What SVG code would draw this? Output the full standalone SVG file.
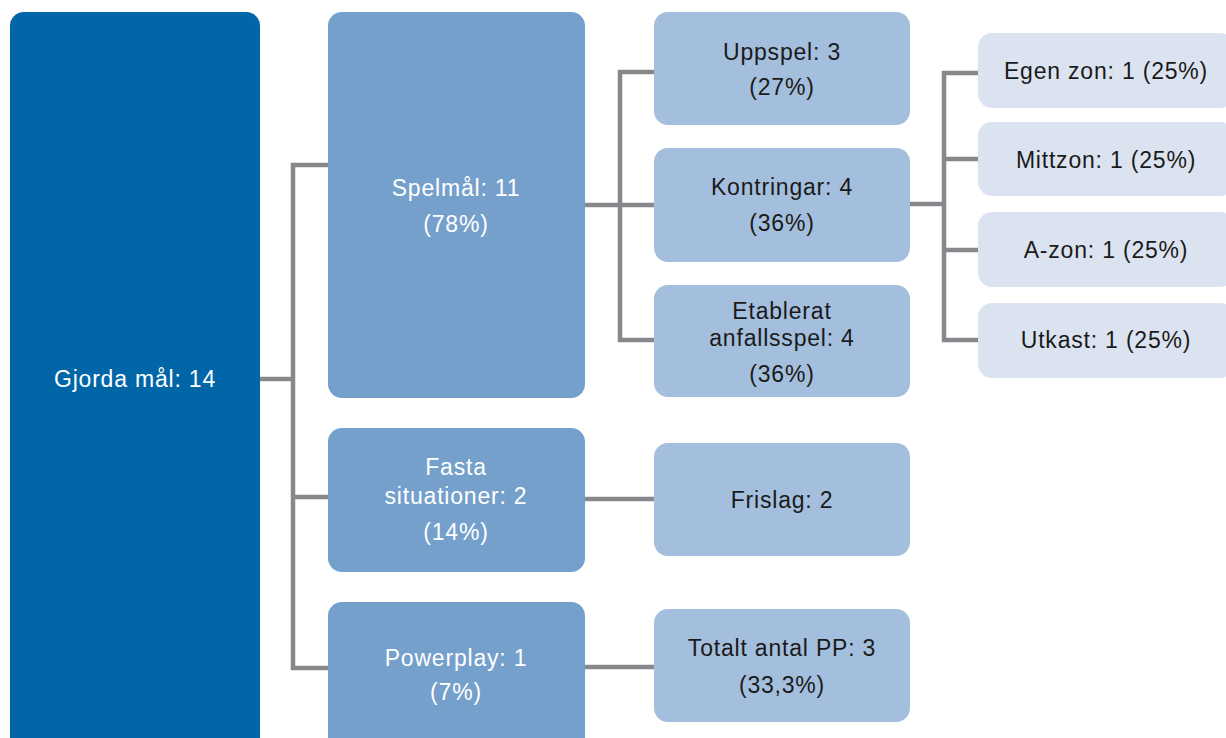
<svg xmlns="http://www.w3.org/2000/svg" width="1226" height="738" viewBox="0 0 1226 738">
<style>
text{font-family:"Liberation Sans","Noto Sans",sans-serif;font-size:23px;letter-spacing:0.8px;text-anchor:middle;}
.w{fill:#ffffff}
.d{fill:#1a1a1a}
.c{fill:none;stroke:#87888c;stroke-width:4.5}
</style>
<rect width="1226" height="738" fill="#ffffff"/>
<g id="connectors">
<path class="c" d="M260 379H293M328 165H293V668H328M293 497H328"/>
<path class="c" d="M585 205H620M654 72H620V340H654M620 205H654"/>
<path class="c" d="M585 499H654M585 667H654"/>
<path class="c" d="M910 204H944M978 73H944V340H978M944 159H978M944 250H978"/>
</g>
<g id="root"><rect x="10" y="12" width="250" height="740" rx="14" fill="#0066a8"/><text class="w" x="135" y="387">Gjorda mål: 14</text></g>
<g id="spelmal"><rect x="328" y="12" width="257" height="386" rx="14" fill="#74a0cb"/><text class="w" x="456" y="196">Spelmål: 11</text><text class="w" x="456" y="232">(78%)</text></g>
<g id="fasta"><rect x="328" y="428" width="257" height="144" rx="14" fill="#74a0cb"/><text class="w" x="456" y="475">Fasta</text><text class="w" x="456" y="504">situationer: 2</text><text class="w" x="456" y="540">(14%)</text></g>
<g id="powerplay"><rect x="328" y="602" width="257" height="150" rx="14" fill="#74a0cb"/><text class="w" x="456" y="666">Powerplay: 1</text><text class="w" x="456" y="700">(7%)</text></g>
<g id="uppspel"><rect x="654" y="12" width="256" height="113" rx="14" fill="#a4bfdd"/><text class="d" x="782" y="60">Uppspel: 3</text><text class="d" x="782" y="95">(27%)</text></g>
<g id="kontringar"><rect x="654" y="148" width="256" height="114" rx="14" fill="#a4bfdd"/><text class="d" x="782" y="195">Kontringar: 4</text><text class="d" x="782" y="231">(36%)</text></g>
<g id="etablerat"><rect x="654" y="285" width="256" height="112" rx="14" fill="#a4bfdd"/><text class="d" x="782" y="319">Etablerat</text><text class="d" x="782" y="346">anfallsspel: 4</text><text class="d" x="782" y="382">(36%)</text></g>
<g id="frislag"><rect x="654" y="443" width="256" height="113" rx="14" fill="#a4bfdd"/><text class="d" x="782" y="508">Frislag: 2</text></g>
<g id="totalt"><rect x="654" y="609" width="256" height="113" rx="14" fill="#a4bfdd"/><text class="d" x="782" y="656">Totalt antal PP: 3</text><text class="d" x="782" y="693">(33,3%)</text></g>
<g id="egen"><rect x="978" y="33" width="256" height="75" rx="14" fill="#dce3f0"/><text class="d" x="1106" y="79">Egen zon: 1 (25%)</text></g>
<g id="mittzon"><rect x="978" y="122" width="256" height="74" rx="14" fill="#dce3f0"/><text class="d" x="1106" y="168">Mittzon: 1 (25%)</text></g>
<g id="azon"><rect x="978" y="212" width="256" height="75" rx="14" fill="#dce3f0"/><text class="d" x="1106" y="258">A-zon: 1 (25%)</text></g>
<g id="utkast"><rect x="978" y="303" width="256" height="75" rx="14" fill="#dce3f0"/><text class="d" x="1106" y="348">Utkast: 1 (25%)</text></g>
</svg>
